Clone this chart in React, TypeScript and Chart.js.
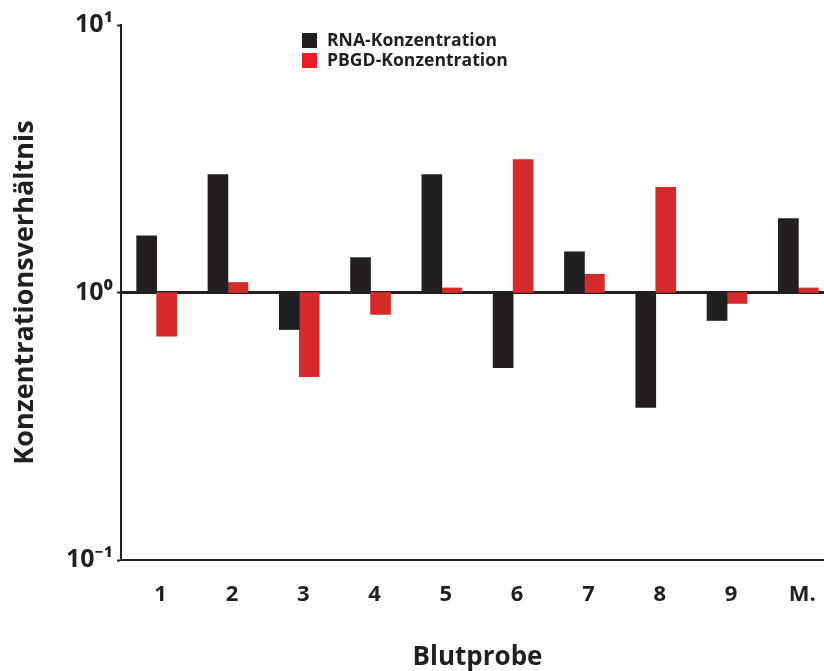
import React, { useEffect, useRef } from "react";
import { Chart, registerables } from "chart.js";

Chart.register(...registerables);

const categories = ["1", "2", "3", "4", "5", "6", "7", "8", "9", "M."];
const rnaValues = [1.63, 2.76, 0.727, 1.35, 2.76, 0.524, 1.42, 0.372, 0.786, 1.89];
const pbgdValues = [0.687, 1.09, 0.485, 0.828, 1.04, 3.14, 1.17, 2.47, 0.91, 1.04];
const seriesLabels = ["RNA-Konzentration", "PBGD-Konzentration"];
const yTickValues = [0.1, 1, 10];
const yTickLabels = ["10\u207B\u00B9", "10\u2070", "10\u00B9"];
const baseValue = 1;

const INK = "#231f20";
const RED = "#d62b2a";
const LEGEND_COLORS = [INK, "#ec1c24"];
const FONT = "'Open Sans', 'Noto Sans', 'DejaVu Sans', sans-serif";

const legendPlugin = {
  id: "stackedLegend",
  afterDraw(chart: any) {
    const { ctx, chartArea } = chart;
    ctx.save();
    ctx.font = `bold 17.6px ${FONT}`;
    ctx.textBaseline = "middle";
    ctx.textAlign = "left";
    chart.data.datasets.forEach((ds: any, i: number) => {
      const x = chartArea.left + 181;
      const y = chartArea.top + 8 + i * 20;
      ctx.fillStyle = LEGEND_COLORS[i];
      ctx.fillRect(x, y, 15, 15);
      ctx.fillStyle = INK;
      ctx.fillText(ds.label, x + 25, y + 8);
    });
    ctx.restore();
  },
};

export default function App() {
  const ref = useRef<HTMLCanvasElement>(null);
  useEffect(() => {
    if (!ref.current) return;
    const chart = new Chart(ref.current, {
      type: "bar",
      data: {
        labels: categories,
        datasets: [
          {
            label: seriesLabels[0],
            data: rnaValues.map((v) => [baseValue, v]) as any,
            backgroundColor: INK,
            barThickness: 20,
          },
          {
            label: seriesLabels[1],
            data: pbgdValues.map((v) => [baseValue, v]) as any,
            backgroundColor: RED,
            barThickness: 20,
          },
        ],
      },
      options: {
        responsive: false,
        animation: false,
        layout: { padding: { top: 25, left: 0, right: 6, bottom: 0 } },
        plugins: {
          legend: { display: false },
          tooltip: { enabled: false },
        },
        scales: {
          x: {
            type: "category",
            offset: true,
            grid: { display: false },
            border: { display: true, color: INK, width: 2 },
            ticks: {
              color: INK,
              font: { family: FONT, size: 22, weight: "bold" },
              padding: 14,
              labelOffset: 4,
              maxRotation: 0,
            },
            title: {
              display: true,
              text: "Blutprobe",
              color: INK,
              font: { family: FONT, size: 26, weight: "bold" },
              padding: { top: 0, bottom: -2 },
            },
            afterFit: (s: any) => {
              s.height = 111;
            },
          },
          y: {
            type: "logarithmic",
            min: 0.1,
            max: 10,
            z: 1,
            afterBuildTicks: (s: any) => {
              s.ticks = yTickValues.map((v) => ({ value: v }));
            },
            grid: {
              color: (c: any) => (c.tick && c.tick.value === 1 ? INK : "rgba(0,0,0,0)"),
              lineWidth: (c: any) => (c.tick && c.tick.value === 1 ? 3 : 1),
              tickColor: INK,
              tickLength: 4,
              tickWidth: 2,
            },
            border: { display: true, color: INK, width: 2 },
            ticks: {
              color: INK,
              font: { family: FONT, size: 25, weight: "bold" },
              padding: 4,
              callback: (value: any) => {
                const i = yTickValues.indexOf(Number(value));
                return i >= 0 ? yTickLabels[i] : "";
              },
            },
            title: {
              display: true,
              text: "Konzentrationsverhältnis",
              color: INK,
              font: { family: FONT, size: 27, weight: "bold" },
              padding: { top: 9, bottom: 0 },
            },
            afterFit: (s: any) => {
              s.width = 121;
            },
          },
        },
      },
      plugins: [legendPlugin],
    });
    return () => chart.destroy();
  }, []);
  return (
    <div
      style={{
        position: "fixed",
        left: 0,
        top: 0,
        width: 824,
        height: 671,
        overflow: "hidden",
        background: "#fff",
      }}
    >
      <canvas ref={ref} width={840} height={671} style={{ position: "absolute", left: 0, top: 0 }} />
    </div>
  );
}
